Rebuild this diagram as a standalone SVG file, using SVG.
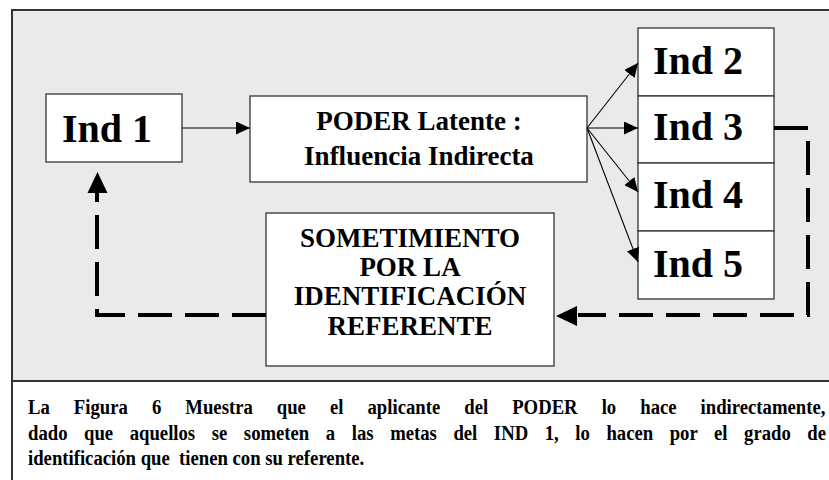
<svg xmlns="http://www.w3.org/2000/svg" width="829" height="480" viewBox="0 0 829 480">
<style>
.box{fill:#fff;stroke:#333;stroke-width:1.3}
.thin{fill:none;stroke:#000;stroke-width:1.1}
.dash{fill:none;stroke:#000;stroke-width:4;stroke-dasharray:34 13}
</style>
<defs>
<marker id="ah" markerUnits="userSpaceOnUse" markerWidth="14" markerHeight="13" refX="14" refY="6.5" orient="auto">
<path d="M0,0 L14,6.5 L0,13 z" fill="#000"/>
</marker>
</defs>
<rect x="0" y="0" width="829" height="480" fill="#fff"/>
<rect x="12" y="10" width="830" height="371" fill="#eaeaea"/>
<path d="M12,480 V10 H829 M12,381 H829" fill="none" stroke="#333" stroke-width="2"/>

<g id="ind1">
<rect class="box" x="46" y="94" width="136" height="68"/>
<text x="107" y="142" text-anchor="middle" font-family="Liberation Serif, serif" font-weight="bold" font-size="40">Ind 1</text>
</g>
<g id="poder">
<rect class="box" x="250" y="96" width="337" height="86"/>
<text x="419" y="130" text-anchor="middle" font-family="Liberation Serif, serif" font-weight="bold" font-size="27">PODER Latente :</text>
<text x="419" y="165" text-anchor="middle" font-family="Liberation Serif, serif" font-weight="bold" font-size="27">Influencia Indirecta</text>
</g>
<g id="ind2">
<rect class="box" x="638" y="28" width="136" height="68"/>
<text x="653" y="74" font-family="Liberation Serif, serif" font-weight="bold" font-size="40">Ind 2</text>
</g>
<g id="ind3">
<rect class="box" x="638" y="96" width="136" height="67"/>
<text x="653" y="140" font-family="Liberation Serif, serif" font-weight="bold" font-size="40">Ind 3</text>
</g>
<g id="ind4">
<rect class="box" x="638" y="163" width="136" height="68"/>
<text x="653" y="208" font-family="Liberation Serif, serif" font-weight="bold" font-size="40">Ind 4</text>
</g>
<g id="ind5">
<rect class="box" x="638" y="231" width="136" height="68"/>
<text x="653" y="277" font-family="Liberation Serif, serif" font-weight="bold" font-size="40">Ind 5</text>
</g>
<g id="sometimiento">
<rect class="box" x="266" y="213" width="288" height="153"/>
<text x="410" y="247" text-anchor="middle" font-family="Liberation Serif, serif" font-weight="bold" font-size="27">SOMETIMIENTO</text>
<text x="410" y="276" text-anchor="middle" font-family="Liberation Serif, serif" font-weight="bold" font-size="27">POR LA</text>
<text x="410" y="305" text-anchor="middle" font-family="Liberation Serif, serif" font-weight="bold" font-size="27">IDENTIFICACI&#211;N</text>
<text x="410" y="335" text-anchor="middle" font-family="Liberation Serif, serif" font-weight="bold" font-size="27">REFERENTE</text>
</g>

<g id="connectors">
<line class="thin" x1="182" y1="128" x2="250" y2="128" marker-end="url(#ah)"/>
<line class="thin" x1="587" y1="128" x2="638" y2="63" marker-end="url(#ah)"/>
<line class="thin" x1="587" y1="128" x2="638" y2="128" marker-end="url(#ah)"/>
<line class="thin" x1="587" y1="128" x2="638" y2="192" marker-end="url(#ah)"/>
<line class="thin" x1="587" y1="128" x2="638" y2="262" marker-end="url(#ah)"/>
<path class="dash" d="M774,128 H808 V315 H578"/>
<polygon points="556,316 577,306 577,326" fill="#000"/>
<path class="dash" d="M266,315 H97 V192"/>
<polygon points="97.5,172 87.5,193 107.5,193" fill="#000"/>
</g>

<g id="caption" transform="translate(28,0) scale(0.85,1)">
<text x="0" y="414" word-spacing="22.8" font-family="Liberation Serif, serif" font-weight="bold" font-size="22">La Figura 6 Muestra que el aplicante del PODER lo hace indirectamente,</text>
<text x="0" y="440" word-spacing="14" font-family="Liberation Serif, serif" font-weight="bold" font-size="22">dado que aquellos se someten a las metas del IND 1, lo hacen por el grado de</text>
<text x="0" y="465" xml:space="preserve" font-family="Liberation Serif, serif" font-weight="bold" font-size="22">identificaci&#243;n que  tienen con su referente.</text>
</g>
</svg>
